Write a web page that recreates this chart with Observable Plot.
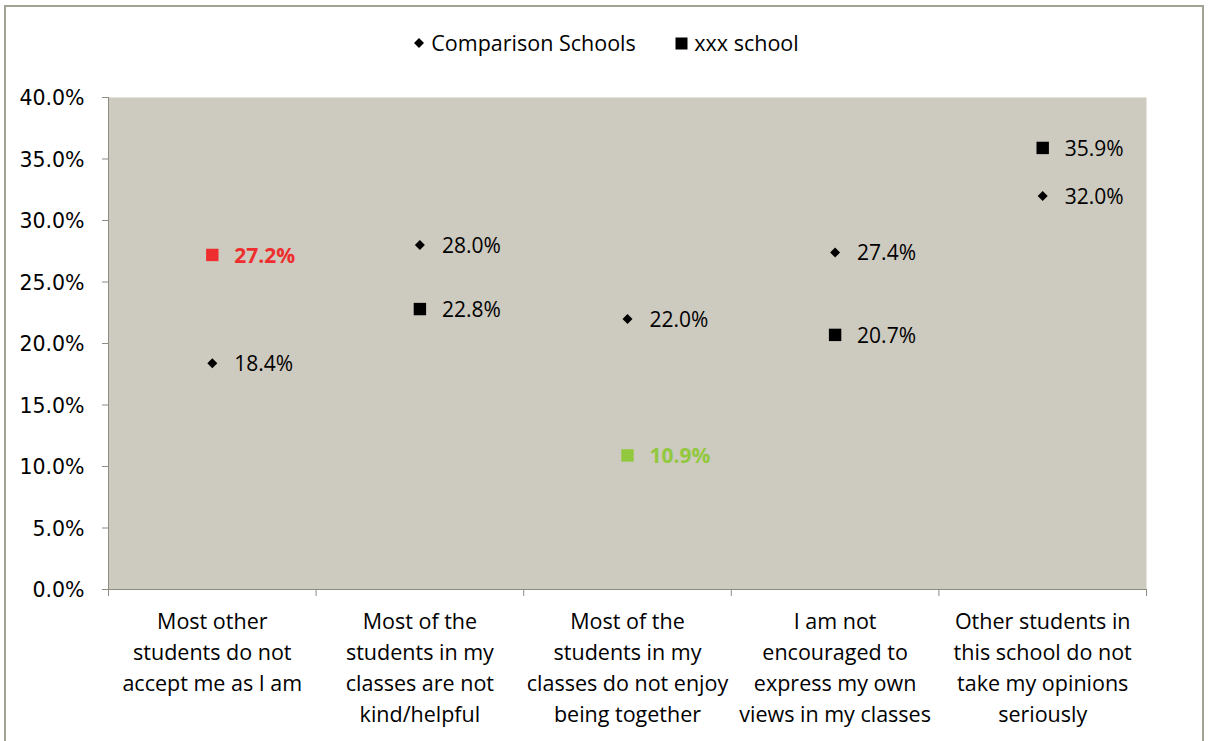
<!DOCTYPE html>
<html>
<head>
<meta charset="utf-8">
<script src="https://cdn.jsdelivr.net/npm/d3@7"></script>
<script src="https://cdn.jsdelivr.net/npm/@observablehq/plot@0.6"></script>
<style>
  html, body { margin: 0; padding: 0; background: #fff; }
  #wrap { position: relative; width: 1212px; height: 741px; overflow: hidden; }
  #border { position: absolute; left: 4px; top: 5px; width: 1200px; height: 760px; border: 2px solid #a3a395; box-sizing: border-box; }
  #legend { position: absolute; top: 28px; left: 0; width: 1212px; text-align: center; font-family: "Open Sans", sans-serif; font-size: 21.5px; color: #000; }
  #legend span.item { display: inline-block; margin: 0 17px; }
  #legend svg { vertical-align: middle; margin-right: 6px; position: relative; top: -2px; }
  #chart { position: absolute; left: 0; top: 0; }
</style>
</head>
<body>
<div id="wrap">
  <div id="border"></div>
  <div id="chart"></div>
  <div id="legend">
    <span class="item"><svg width="12" height="12"><path d="M6,1L11,6L6,11L1,6Z" fill="#000"/></svg>Comparison Schools</span>
    <span class="item"><svg width="13" height="13"><rect x="0.5" y="0.5" width="12" height="12" fill="#000"/></svg>xxx school</span>
  </div>
</div>
<script>
const categories = [
  "Most other\nstudents do not\naccept me as I am",
  "Most of the\nstudents in my\nclasses are not\nkind/helpful",
  "Most of the\nstudents in my\nclasses do not enjoy\nbeing together",
  "I am not\nencouraged to\nexpress my own\nviews in my classes",
  "Other students in\nthis school do not\ntake my opinions\nseriously"
];
const comparisonSchools = [18.4, 28.0, 22.0, 27.4, 32.0];
const xxxSchool = [27.2, 22.8, 10.9, 20.7, 35.9];
const xxxStatus = ["worse", "same", "better", "same", "same"];
const yTicks = [0, 5, 10, 15, 20, 25, 30, 35, 40];

const statusColor = {worse: "#ee2e2e", better: "#92c83e", same: "#000000"};

const comp = categories.map((c, i) => ({pos: i + 0.5, value: comparisonSchools[i] / 100}));
const xxx = categories.map((c, i) => ({pos: i + 0.5, value: xxxSchool[i] / 100, status: xxxStatus[i]}));
const yTickValues = yTicks.map(d => d / 100);

const fmt = d3.format(".1%");
const labelFont = "'Open Sans', sans-serif";

const chart = Plot.plot({
  width: 1212,
  height: 741,
  marginLeft: 108,
  marginRight: 66,
  marginTop: 97,
  marginBottom: 152,
  style: {background: "transparent", fontFamily: labelFont},
  x: {domain: [0, categories.length]},
  y: {domain: [0, 0.4]},
  marks: [
    Plot.frame({fill: "#cdcabf", stroke: null}),
    Plot.axisY({
      ticks: yTickValues,
      tickFormat: () => "",
      tickSize: 6,
      stroke: "#8c8c80",
      strokeOpacity: 1,
      label: null
    }),
    Plot.text(yTickValues, {
      y: d => d,
      text: d => fmt(d),
      frameAnchor: "left",
      dx: -24,
      dy: 1,
      textAnchor: "end",
      fontFamily: "DejaVu Sans",
      fontSize: 20.5,
      fill: "#000"
    }),
    Plot.axisX({
      ticks: d3.range(categories.length + 1),
      tickSize: 7,
      tickFormat: () => "",
      stroke: "#8c8c80",
      strokeOpacity: 1,
      label: null
    }),
    Plot.axisX({
      ticks: categories.map((c, i) => i + 0.5),
      tickSize: 0,
      tickPadding: 17,
      tickFormat: d => categories[Math.floor(d)],
      fontSize: 21.5,
      lineHeight: 1.45,
      fill: "#000",
      label: null
    }),
    Plot.frame({anchor: "left", stroke: "#8c8c80", strokeOpacity: 1}),
    Plot.frame({anchor: "bottom", stroke: "#8c8c80", strokeOpacity: 1}),
    Plot.dot(comp, {x: "pos", y: "value", symbol: "diamond2", r: 4.5, fill: "#000", stroke: null}),
    Plot.dot(xxx, {x: "pos", y: "value", symbol: "square", r: 7, fill: d => statusColor[d.status], stroke: null}),
    Plot.text(comp, {x: "pos", y: "value", text: d => fmt(d.value), dx: 22, dy: 1, textAnchor: "start", fontSize: 21, fill: "#000"}),
    Plot.text(xxx.filter(d => d.status === "same"), {x: "pos", y: "value", text: d => fmt(d.value), dx: 22, dy: 1, textAnchor: "start", fontSize: 21, fill: "#000"}),
    Plot.text(xxx.filter(d => d.status !== "same"), {x: "pos", y: "value", text: d => fmt(d.value), dx: 22, dy: 1, textAnchor: "start", fontSize: 21, fontWeight: "bold", fill: d => statusColor[d.status]})
  ]
});
document.getElementById("chart").appendChild(chart);
</script>
</body>
</html>
